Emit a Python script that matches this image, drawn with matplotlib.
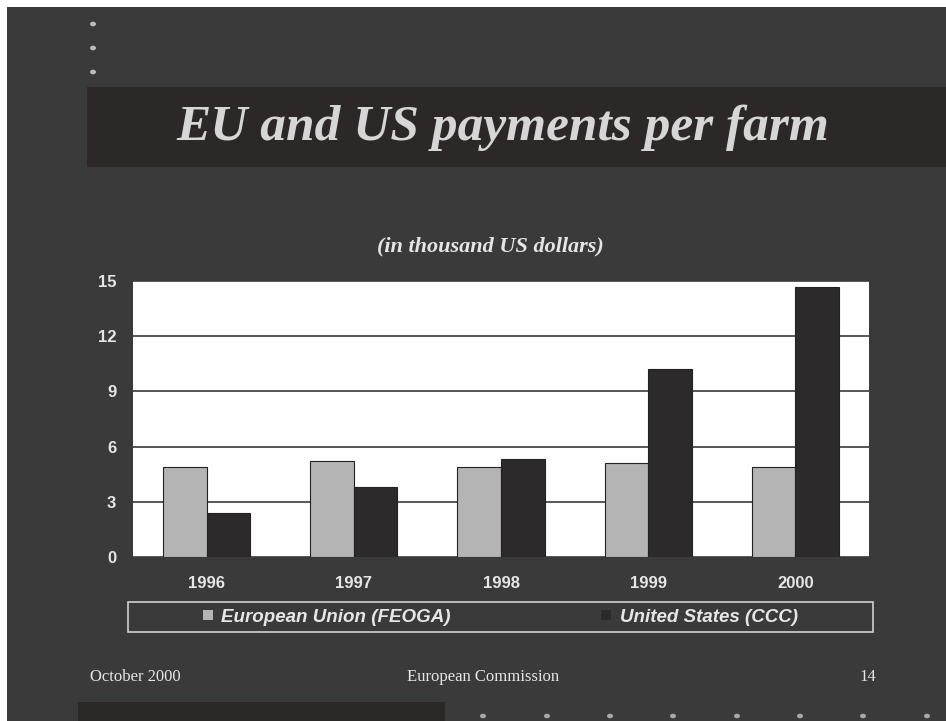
import numpy as np
import matplotlib
matplotlib.use('Agg')
import matplotlib.pyplot as plt
from matplotlib.patches import Rectangle, Patch

#=======================================================================================
# Data (thousand US dollars per farm)
#=======================================================================================
years = ['1996', '1997', '1998', '1999', '2000']
eu_vals = [4.9, 5.2, 4.9, 5.1, 4.9]
us_vals = [2.4, 3.8, 5.3, 10.2, 14.7]
yticks = [0, 3, 6, 9, 12, 15]
labels = ['European Union (FEOGA)', 'United States (CCC)']

bg = '#3b3a3a'
band = '#2b2827'
eu_col = '#b4b4b4'
us_col = '#2c2a2a'
txt = '#e6e6e6'

W, H = 946, 721
fig = plt.figure(figsize=(9.46, 7.21), dpi=100)
fig.patch.set_facecolor('white')

def px(x, y, w, h, **kw):
	# rectangle given in pixel coords from top-left
	fig.patches.append(Rectangle((x / W, 1 - (y + h) / H), w / W, h / H,
		transform=fig.transFigure, **kw))

#Slide background and bands
px(7, 7, W - 7, H - 7, facecolor=bg, edgecolor='none', zorder=-10)
px(87, 87, W - 87, 80, facecolor=band, edgecolor='none', zorder=-9)
px(78, 702, 367, 19, facecolor=band, edgecolor='none', zorder=-9)

#Decorative dots
for yy in [24, 48, 72]:
	fig.patches.append(plt.Circle((93 / W, 1 - yy / H), 3 / W, transform=fig.transFigure,
		facecolor='#bdbdbd', edgecolor='none'))
for xx in [483, 547, 610, 673, 737, 800, 863, 927]:
	fig.patches.append(plt.Circle((xx / W, 1 - 716 / H), 3 / W, transform=fig.transFigure,
		facecolor='#a8a8a8', edgecolor='none'))

#Titles
fig.text(503 / W, 1 - 128 / H, 'EU and US payments per farm', ha='center', va='center',
	fontsize=37, fontweight='bold', fontstyle='italic', family='Liberation Serif', color='#d6d6d6')
fig.text(490 / W, 1 - 246 / H, '(in thousand US dollars)', ha='center', va='center',
	fontsize=16, fontweight='bold', fontstyle='italic', family='Liberation Serif', color=txt)

#Footer
fig.text(90 / W, 1 - 677 / H, 'October 2000', ha='left', va='center',
	fontsize=12, family='Liberation Serif', color=txt)
fig.text(483 / W, 1 - 677 / H, 'European Commission', ha='center', va='center',
	fontsize=12, family='Liberation Serif', color=txt)
fig.text(868 / W, 1 - 677 / H, '14', ha='center', va='center',
	fontsize=12, family='Liberation Serif', color=txt)

#=======================================================================================
# Bar chart
#=======================================================================================
ax = fig.add_axes([133 / W, 1 - 557 / H, 736 / W, 276 / H])
ax.set_facecolor('white')
x = np.arange(len(years))
bw = 0.296
ax.bar(x - bw / 2, eu_vals, bw, color=eu_col, edgecolor='#222222', linewidth=0.8, zorder=3)
ax.bar(x + bw / 2, us_vals, bw, color=us_col, edgecolor='#222222', linewidth=0.8, zorder=3)

ax.set_xlim(-0.5, len(years) - 0.5)
ax.set_ylim(0, 15)
ax.set_yticks(yticks)
ax.set_xticks(x)
ax.set_xticklabels(years)
for sp in ax.spines.values():
	sp.set_visible(False)
ax.yaxis.grid(True, color='#3a3a3a', linewidth=1.2, zorder=0)
ax.tick_params(length=0, colors=txt, labelsize=12)
ax.tick_params(axis='x', pad=14)
ax.tick_params(axis='y', pad=12)
for lab in ax.get_xticklabels() + ax.get_yticklabels():
	lab.set_fontweight('bold')
	lab.set_family('Liberation Sans')
	lab.set_color(txt)

#Legend box drawn separately, entries centred inside it
px(128, 602, 745, 30, facecolor='none', edgecolor='#d0d0d0', linewidth=1.2, zorder=5)
handles = [Patch(facecolor=eu_col, edgecolor='none'), Patch(facecolor=us_col, edgecolor='none')]
leg = fig.legend(handles, labels, loc='center', ncol=2, bbox_to_anchor=(500 / W, 1 - 617 / H),
	bbox_transform=fig.transFigure, frameon=False, handlelength=0.55, handleheight=0.4,
	handletextpad=0.45, columnspacing=8.0, borderaxespad=0, borderpad=0,
	prop={'family': 'Liberation Sans', 'weight': 'bold', 'style': 'italic', 'size': 13.5})
for t in leg.get_texts():
	t.set_color(txt)

plt.savefig('out.png', dpi=100, facecolor=fig.get_facecolor())
plt.close()
